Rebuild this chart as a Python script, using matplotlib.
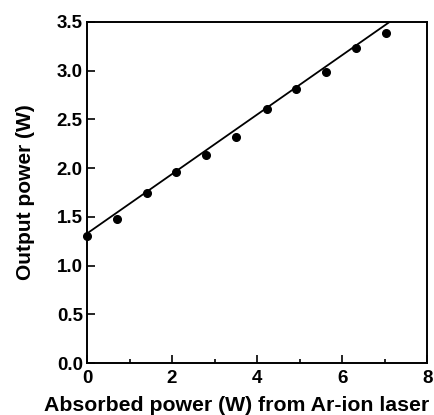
import matplotlib
matplotlib.use("Agg")
import matplotlib.pyplot as plt
from matplotlib.ticker import MultipleLocator

plt.rcParams['font.family'] = ['Liberation Sans', 'DejaVu Sans']
plt.rcParams['font.weight'] = 'bold'

absorbed = [0.0, 0.71, 1.42, 2.09, 2.80, 3.51, 4.23, 4.91, 5.62, 6.32, 7.03]
output = [1.30, 1.48, 1.75, 1.96, 2.14, 2.32, 2.61, 2.81, 2.99, 3.23, 3.39]

fit_x = [0.0, 8.0]
slope = 0.305
intercept = 1.33

fig = plt.figure(figsize=(4.35, 4.15), dpi=100)
ax = fig.add_axes([0.200, 0.125, 0.782, 0.822])

ax.plot(fit_x, [intercept + slope * x for x in fit_x], color='black', linewidth=1.3)
ax.plot(absorbed, output, 'o', color='black', markersize=5.5, clip_on=False)

ax.set_xlim(0, 8)
ax.set_ylim(0, 3.5)
ax.xaxis.set_major_locator(MultipleLocator(2))
ax.xaxis.set_minor_locator(MultipleLocator(1))
ax.yaxis.set_major_locator(MultipleLocator(0.5))
ax.set_yticklabels([f"{v:.1f}" for v in ax.get_yticks()])

ax.tick_params(direction='in', which='both', labelsize=13.5, width=1.2)
ax.tick_params(which='major', length=6)
ax.tick_params(which='minor', length=3)
ax.tick_params(axis='x', pad=5)
ax.tick_params(axis='y', pad=3)
for s in ax.spines.values():
    s.set_linewidth(1.4)

ax.set_xlabel("Absorbed power (W) from Ar-ion laser", fontsize=15.3, fontweight='bold')
ax.set_ylabel("Output power (W)", fontsize=15, fontweight='bold')
ax.xaxis.set_label_coords(0.44, -0.095)
ax.yaxis.set_label_coords(-0.152, 0.5)

fig.savefig("out.png", dpi=100)
